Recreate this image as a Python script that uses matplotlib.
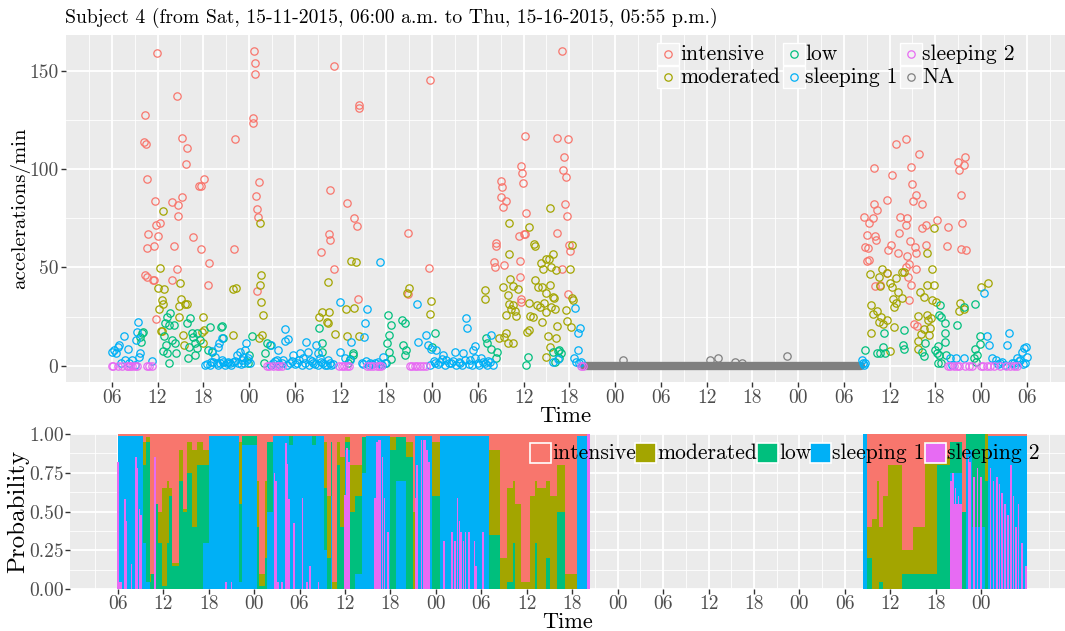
import matplotlib
matplotlib.use('Agg')
import matplotlib.pyplot as plt
import matplotlib.patches as patches
import numpy as np

plt.rcParams['font.family'] = 'cmr10'
plt.rcParams['mathtext.fontset'] = 'cm'
plt.rcParams['axes.unicode_minus'] = False

# --- colours (ggplot hue palette) ---
COLORS = {'intensive': '#F8766D', 'moderated': '#A3A500', 'low': '#00BF7D',
          'sleeping 1': '#00B0F6', 'sleeping 2': '#E76BF3', 'NA': '#7F7F7F'}

# ================= DATA (time in hours from Sat 00:00) =================
int_t = [11.9, 14.56, 10.3, 10.2, 10.5, 10.6, 15.26, 15.87, 15.8, 11.7, 13.95, 14.65, 15.2, 14.7, 12.3, 11.85,
         10.8, 12.0, 10.67, 11.6, 14.1, 16.7, 17.5, 17.65, 18.1, 17.7, 18.7, 18.6, 10.3, 10.6, 11.4, 11.6, 13.9,
         14.5, 11.76, 22.1, 22.0, 24.6, 24.8, 24.8, 24.56, 24.5, 25.26, 24.9, 25.1, 25.2, 25.0, 35.1, 38.4, 38.45,
         34.6, 36.8, 37.8, 38.2, 34.5, 34.65, 33.4, 35.2, 38.3, 47.7, 44.9, 44.8, 47.6, 60.15, 59.7, 59.8, 59.9,
         57.0, 57.2, 57.05, 57.3, 57.7, 60.3, 59.4, 60.05, 60.2, 56.4, 56.4, 56.1, 56.2, 57.4, 59.5, 59.5, 59.6,
         59.7, 64.4, 64.4, 65.1, 65.8, 65.3, 65.2, 65.5, 65.4, 65.7, 65.96, 66.1, 65.1, 65.8,
         110.1, 108.8, 111.9, 105.9, 110.8, 108.3, 111.0, 111.4, 111.1, 112.3, 107.7, 106.0, 106.4, 104.7, 105.3,
         105.8, 109.3, 110.3, 110.1, 109.2, 105.1, 106.1, 106.2, 114.2, 115.6, 112.2, 112.8, 110.7, 111.3, 112.8,
         108.2, 107.8, 104.8, 105.2, 109.1, 111.4, 110.3, 110.5, 110.1, 105.0, 105.3, 111.5, 107.6, 110.4, 110.8,
         106.1, 106.8, 110.6, 111.2, 111.6, 117.0, 117.1, 117.9, 117.8, 117.4, 117.5, 115.5, 117.4, 118.0]
int_v = [158.8, 137.0, 127.6, 113.5, 112.7, 94.7, 116.0, 110.5, 102.4, 83.9, 83.2, 81.7, 86.0, 76.3, 72.7, 71.4,
         66.8, 65.8, 59.7, 61.0, 60.8, 65.4, 91.2, 91.5, 94.9, 59.3, 52.0, 41.2, 45.9, 44.9, 43.6, 43.6, 43.6,
         49.3, 24.0, 115.0, 59.5, 159.8, 153.7, 148.1, 126.0, 123.4, 93.6, 86.4, 79.7, 75.8, 38.1, 152.5, 132.4, 131.0,
         89.3, 82.5, 75.1, 71.2, 66.8, 63.9, 57.8, 49.2, 34.1, 145.3, 67.6, 36.6, 49.8, 117.0, 101.7, 97.8, 92.9,
         93.9, 90.7, 85.8, 80.7, 83.9, 77.8, 65.9, 66.8, 67.0, 62.5, 60.7, 52.9, 50.2, 51.0, 53.4, 45.3, 33.7,
         32.5, 115.6, 67.3, 160.0, 115.3, 105.9, 99.5, 95.8, 82.4, 76.3, 61.5, 58.5, 49.0, 36.6,
         115.3, 112.5, 107.6, 100.5, 101.2, 97.0, 92.4, 86.8, 83.6, 82.2, 84.4, 82.2, 79.2, 75.6, 72.7,
         74.9, 75.4, 74.9, 71.7, 67.3, 66.3, 66.1, 63.9, 74.1, 70.5, 70.0, 71.4, 63.2, 60.3, 61.4,
         61.4, 58.8, 60.5, 59.7, 57.1, 57.1, 55.8, 51.5, 50.3, 53.2, 53.9, 49.0, 47.1, 44.9, 41.2,
         40.5, 41.0, 33.4, 21.4, 20.3, 103.4, 99.7, 105.9, 102.0, 86.6, 72.4, 60.8, 59.3, 58.6]

mod_t = [12.68, 12.29, 12.03, 12.81, 12.55, 12.77, 12.16, 12.42, 12.6, 15.0, 15.08, 15.6, 15.83, 14.82, 14.86,
         15.39, 15.52, 18.0, 18.05, 17.79, 17.97, 21.9, 22.29, 21.85, 25.48, 25.6, 25.39, 25.56, 25.78, 25.69,
         25.26, 34.38, 34.52, 33.51, 33.21, 34.17, 34.34, 37.35, 38.0, 36.74, 37.83, 35.3, 36.83, 38.45, 44.95,
         44.78, 47.83, 47.79, 54.95, 54.95, 58.14, 58.05, 58.27, 57.35, 57.97, 59.28, 58.62, 58.05, 58.62, 58.36,
         57.75, 58.88, 59.06, 56.79, 57.44, 57.75, 58.01, 58.62, 60.76, 61.37, 61.46, 60.76, 60.85, 61.55, 61.94,
         62.33, 62.51, 62.99, 63.29, 63.47, 62.2, 61.81, 62.42, 62.9, 63.42, 63.86, 63.6, 62.46, 61.24, 60.5,
         60.72, 63.25, 63.47, 62.9, 64.3, 63.81, 63.6, 66.35, 66.13, 66.31, 66.44, 65.56, 65.65, 66.26, 64.38,
         64.25, 64.03, 64.16, 62.93, 62.67,
         113.85, 112.89, 113.55, 112.89, 113.76, 112.45, 112.01, 113.55, 114.03, 107.06, 106.62, 106.8, 107.63,
         105.44, 108.29, 108.07, 109.65, 109.86, 108.81, 109.12, 109.6, 108.59, 108.86, 108.51, 105.61, 105.79,
         106.4, 106.84, 107.19, 107.63, 106.67, 105.53, 108.59, 108.02, 111.71, 111.75, 112.1, 112.45, 112.89,
         113.06, 113.37, 113.24, 113.15, 111.71, 117.27, 117.14, 117.71, 120.03, 120.91]
mod_v = [78.6, 49.8, 39.3, 39.2, 33.4, 31.2, 28.8, 17.6, 17.6, 41.9, 34.1, 31.4, 31.4, 30.3, 24.6,
         15.8, 10.8, 24.6, 18.0, 17.3, 11.4, 39.2, 39.7, 15.4, 72.4, 45.9, 40.8, 32.5, 25.8, 15.4,
         13.9, 42.7, 27.1, 27.3, 24.7, 22.2, 21.9, 53.0, 52.5, 29.0, 29.3, 16.3, 15.3, 15.3, 39.5,
         36.8, 32.7, 26.3, 38.3, 33.9, 72.7, 56.8, 43.9, 39.8, 35.9, 38.8, 40.7, 31.4, 31.0, 29.0,
         25.8, 28.0, 25.3, 13.9, 14.4, 16.8, 11.7, 11.4, 70.7, 61.9, 60.8, 31.7, 25.3, 43.6, 40.2,
         52.0, 49.3, 54.1, 54.1, 80.3, 30.0, 30.8, 40.2, 36.8, 41.0, 35.1, 30.0, 22.4, 24.9, 17.3,
         18.1, 15.3, 9.7, 4.6, 48.6, 56.8, 50.3, 61.4, 49.0, 34.2, 33.4, 28.3, 22.9, 19.8, 20.2,
         14.2, 34.6, 28.8, 27.5, 31.7,
         70.2, 57.5, 49.3, 41.0, 41.0, 35.1, 37.3, 33.4, 32.5, 49.0, 45.3, 40.5, 47.0,
         46.6, 40.2, 41.9, 47.8, 47.5, 44.4, 37.6, 34.2, 30.0, 31.7, 33.9, 30.8, 26.3,
         28.0, 24.6, 21.2, 23.2, 22.4, 16.4, 19.8, 7.5, 25.4, 8.3, 16.1, 18.6, 25.8,
         23.2, 24.1, 19.3, 15.6, 12.5, 32.0, 28.0, 28.6, 40.2, 41.9]

low_t = [9.93, 9.71, 10.15, 9.84, 13.64, 13.29, 12.94, 13.47, 12.86, 13.12, 12.77, 13.51, 13.25, 14.17, 14.34,
         14.43, 13.86, 16.26, 15.91, 16.48, 16.7, 16.87, 16.17, 15.96, 17.14, 17.57, 17.22, 16.92, 18.88, 18.66,
         19.1, 20.41, 20.28, 20.63, 24.34, 24.03, 23.9, 26.31, 26.09, 25.96, 26.79, 33.21, 33.6, 33.51, 37.66,
         37.57, 37.0, 37.22, 42.2, 42.59, 42.42, 42.11, 42.29, 42.64, 41.94, 44.08, 44.43, 44.21, 44.65, 44.43,
         48.36, 48.05, 55.13, 55.26, 55.78, 56.52, 56.44, 60.59, 60.28, 63.86, 64.08, 64.65, 64.47, 64.9, 64.6,
         104.78, 106.4, 106.75, 107.28, 107.19, 107.37, 109.95, 109.82, 109.86, 112.58, 112.45, 112.19, 114.64,
         114.51, 114.77, 115.21, 115.21, 115.3, 114.33, 113.98, 114.2, 114.47, 114.29, 114.77, 115.39, 116.83,
         119.2, 119.9, 119.81, 119.24, 119.46, 119.11, 119.37, 117.71]
low_v = [16.4, 14.7, 17.3, 12.2, 26.6, 24.6, 21.5, 20.7, 15.1, 10.5, 7.6, 1.2, 6.3, 20.7, 11.4,
         6.6, 13.1, 24.1, 21.5, 16.4, 14.7, 11.4, 9.7, 3.7, 16.4, 13.1, 8.8, 5.4, 19.8, 8.0,
         7.1, 20.2, 19.5, 13.9, 15.3, 5.4, 1.2, 11.4, 6.3, 1.2, 10.5, 19.3, 11.4, 7.1, 6.3,
         5.4, 1.2, 3.2, 25.8, 20.7, 15.6, 11.7, 7.1, 3.2, 1.2, 23.2, 21.5, 10.5, 8.0, 5.4,
         16.4, 9.7, 13.9, 11.4, 8.3, 7.1, 3.7, 4.6, 0.3, 7.1, 2.0, 8.0, 7.5, 6.3, 3.7,
         8.0, 6.3, 6.6, 16.4, 9.7, 6.3, 18.1, 10.5, 8.5, 11.4, 4.9, 7.1, 30.8,
         25.8, 24.6, 21.5, 16.8, 12.2, 10.0, 8.0, 6.6, 5.4, 1.2, 1.2, 5.4, 20.5,
         31.4, 15.3, 11.0, 8.3, 5.4, 3.7, 2.0, 30.0]

s1_t = [6.0, 6.31, 6.57, 6.79, 6.92, 7.66, 8.18, 8.62, 7.18, 7.75, 8.23, 9.41, 9.36, 9.19, 9.67, 9.62, 9.06,
        11.33, 18.23, 18.88, 19.32, 19.76, 20.19, 20.63, 21.07, 21.5, 21.94, 19.54, 20.1, 20.45, 19.1, 19.97,
        22.38, 22.81, 23.25, 23.47, 23.6, 23.69, 23.03, 22.59, 24.12, 23.9, 26.83, 27.18, 27.62, 27.83, 28.49,
        28.75, 29.14, 29.36, 29.8, 30.24, 30.67, 31.11, 31.5, 31.76, 31.98, 32.42, 32.77, 33.07, 33.29, 33.73,
        34.17, 34.6, 35.04, 28.71, 35.96, 35.91, 36.57, 37.22, 37.35, 41.24, 39.45, 39.19, 39.06, 38.75, 39.84,
        40.5, 41.15, 41.59, 41.81, 46.04, 46.17, 47.27, 47.48, 47.92, 48.58, 48.36, 49.01, 49.45, 49.89, 50.54,
        50.98, 51.63, 52.07, 52.51, 52.59, 52.94, 53.38, 53.69, 54.03, 54.47, 54.91, 55.57, 55.78, 56.0, 63.86,
        64.52, 66.79, 67.45, 67.1, 67.18, 66.66, 66.88, 67.23, 67.53,
        18.5, 19.0, 19.9, 20.4, 20.9, 21.3, 21.7, 22.2, 23.0, 23.4, 26.9, 27.4, 27.9, 28.3, 29.0, 29.6, 30.0,
        30.5, 30.9, 31.3, 31.9, 32.2, 32.6, 33.0, 33.5, 34.0, 34.4, 34.8, 38.9, 39.3, 39.7, 40.1, 40.9, 41.4,
        47.7, 48.2, 48.8, 49.3, 49.7, 50.2, 50.7, 51.2, 51.5, 51.9, 52.3, 52.8, 53.2, 53.6, 54.2, 54.7, 55.2,
        55.4,
        104.34, 104.48, 104.65, 104.78, 115.96, 116.75, 117.71, 120.34, 120.78, 121.0, 121.43, 122.0, 122.53,
        123.41, 123.71, 124.28, 124.72, 125.16, 125.38, 125.6, 125.95, 125.82, 116.2, 122.2, 122.8, 123.1,
        124.0, 124.5, 125.0, 125.5, 126.0]
s1_v = [7.1, 8.0, 6.3, 9.7, 10.5, 15.1, 8.3, 2.9, 1.2, 2.9, 1.2, 22.4, 17.3, 13.1, 6.3, 4.6, 0.3,
        2.4, 0.3, 0.3, 2.0, 1.2, 1.2, 2.0, 1.2, 1.2, 2.0, 4.6, 11.4, 13.9, 7.5, 9.7,
        5.4, 7.1, 4.6, 8.0, 11.4, 2.9, 2.9, 1.2, 1.2, 3.7, 10.5, 1.2, 2.9, 8.0, 2.9,
        12.7, 13.4, 1.2, 5.4, 1.2, 6.3, 3.7, 11.9, 7.1, 2.9, 1.2, 10.7, 6.6, 3.7, 1.2,
        0.3, 1.2, 0.7, 18.5, 32.4, 7.1, 3.7, 2.9, 12.2, 52.9, 28.6, 21.5, 14.7, 1.2, 1.2,
        1.2, 0.7, 4.6, 1.2, 31.2, 12.2, 15.6, 10.8, 8.3, 8.0, 1.2, 2.0, 5.4, 2.9, 1.2,
        7.1, 1.2, 6.3, 24.1, 19.3, 2.9, 8.0, 10.0, 1.2, 3.7, 1.2, 2.0, 15.6, 0.3, 2.0,
        3.2, 29.5, 19.3, 16.4, 8.0, 3.7, 1.7, 1.2, 2.0,
        0.8, 2.1, 0.5, 3.0, 0.6, 1.8, 0.4, 2.5, 0.9, 1.5, 0.5, 2.2, 0.7, 1.4, 0.3, 2.6, 0.8,
        3.1, 0.4, 1.6, 0.6, 2.3, 0.9, 0.4, 1.9, 0.6, 2.7, 0.5, 0.7, 2.4, 0.3, 1.1, 2.0, 0.6,
        0.5, 2.2, 0.8, 3.4, 0.4, 1.3, 2.6, 0.5, 1.7, 0.3, 2.9, 0.9, 0.4, 4.1, 0.6, 1.8, 0.5,
        2.3,
        2.9, 1.5, 0.3, 1.2, 3.7, 3.7, 3.7, 36.8, 15.1, 10.5, 3.7, 2.9, 1.2,
        10.5, 16.8, 1.2, 3.7, 2.9, 7.1, 8.8, 9.7, 1.2, 0.5, 0.8, 2.0, 0.4,
        1.5, 0.6, 2.2, 0.9, 4.5]

s2_t = [6.0, 6.22, 6.87, 7.31, 7.97, 8.18, 8.4, 8.62, 9.06, 9.36, 10.67, 10.93, 11.24, 26.39, 26.66, 27.18,
        27.62, 27.97, 28.27, 35.83, 36.13, 36.44, 36.79, 37.13, 39.49, 39.84, 40.28, 40.72, 41.07, 41.37,
        45.08, 45.43, 45.74, 46.04, 46.39, 46.83, 47.18, 67.5, 67.8, 115.6, 115.96, 116.4, 116.8, 117.05,
        117.9, 118.4, 118.8, 120.0, 120.3, 120.8, 121.2, 121.65, 122.5, 123.2, 123.8, 124.3, 124.7]
s2_v = [0.0] * len(s2_t)

na_start, na_end = 67.9, 104.3
na_t = [73.1, 84.4, 85.5, 87.7, 88.7, 94.6]
na_v = [2.9, 2.9, 3.7, 2.0, 1.2, 4.9]

# --- state probabilities: piecewise segments (start, end) and stacked shares ---
seg_t0 = [6.0, 9.4, 9.7, 10.2, 10.45, 10.9, 11.3, 11.9, 12.5, 12.8, 13.2, 14.1, 14.6, 15.2, 15.8, 16.5, 17.3,
          18.0, 22.0, 22.4, 24.4, 24.6, 25.4, 25.7, 26.5, 28.6, 29.2, 31.7, 32.2, 33.2, 33.6, 34.1, 34.3, 34.9,
          35.4, 36.0, 36.6, 37.3, 38.2, 38.8, 42.0, 42.8, 44.0, 45.0, 45.3, 47.5, 48.6, 55.0, 56.5, 57.4, 58.2,
          58.5, 59.3, 60.4, 61.1, 61.4, 62.6, 63.0, 64.0, 65.1, 66.6, 67.9,
          104.4, 104.9, 105.6, 106.2, 106.5, 107.0, 107.7, 109.5, 111.0, 112.6, 114.1, 115.9, 117.4, 118.0,
          118.8, 120.5, 120.9]
seg_t1 = [9.4, 9.7, 10.2, 10.45, 10.9, 11.3, 11.9, 12.5, 12.8, 13.2, 14.1, 14.6, 15.2, 15.8, 16.5, 17.3, 18.0,
          22.0, 22.4, 24.4, 24.6, 25.4, 25.7, 26.5, 28.6, 29.2, 31.7, 32.2, 33.2, 33.6, 34.1, 34.3, 34.9, 35.4,
          36.0, 36.6, 37.3, 38.2, 38.8, 42.0, 42.8, 44.0, 45.0, 45.3, 47.5, 48.6, 55.0, 56.5, 57.4, 58.2, 58.5,
          59.3, 60.4, 61.1, 61.4, 62.6, 63.0, 64.0, 65.1, 66.6, 67.9, 68.4,
          104.9, 105.6, 106.2, 106.5, 107.0, 107.7, 109.5, 111.0, 112.6, 114.1, 115.9, 117.4, 118.0, 118.8,
          120.5, 120.9, 126.0]
p_s2 = [0, 0, 0, 0, 0, 0, 0, 0, 0, 0, 0, 0, 0, 0, 0, 0, 0,
        0, 0, 0, 0, 0, 0, 0, 0, 0, 0, 0, 0, 0, 0, 0, 0, 0,
        0, 0, 0, 0, 0, 0, 0, 0, 0, 0, 0, 0, 0, 0, 0, 0, 0,
        0, 0, 0, 0, 0, 0, 0, 0, 0, 0, 1.0,
        0, 0, 0, 0, 0, 0, 0, 0, 0, 0, 0, .55, 0, 0,
        0, 0, 0]
p_s1 = [.99, .30, .05, 0, 0, 0, 0, 0, 0, 0, 0, 0, 0, 0, 0, 0, .30,
        .99, .05, .93, 0, 0, 0, .50, .99, .93, .99, .93, .99, .25, 0, .60, 0, 0,
        0, .90, 0, .10, .75, .99, 0, .70, 0, 0, .99, 0, .99, 0, 0, 0, 0,
        0, 0, 0, 0, 0, 0, 0, 0, 0, .99, 0,
        1.0, 0, 0, 0, 0, 0, 0, 0, 0, 0, 0, .20, 0, .90,
        .40, 0, .99]
p_low = [0, .50, .90, .05, .10, .55, .30, .02, .30, .60, .15, .70, .50, .75, .40, .80, .50,
         0, .50, .06, .40, .02, .20, .45, 0, .06, 0, .06, 0, .40, .20, .35, 0, .80,
         .40, .05, .50, .50, .23, 0, .90, .28, .85, 0, 0, .60, 0, .35, 0, .05, .30,
         0, 0, 0, .30, 0, .20, 0, .50, 0, 0, 0,
         0, .20, 0, 0, .05, 0, 0, .10, .10, .10, .80, .20, .50, .10,
         .60, .70, 0]
p_mod = [0, .15, .03, .05, 0, 0, .20, .63, .40, .05, .02, .20, .02, .20, .50, .15, .10,
         0, .40, 0, .30, .08, .50, 0, 0, 0, 0, 0, 0, .30, .40, 0, .05, .15,
         .45, .03, .30, .20, 0, 0, .08, 0, .10, .50, 0, .35, 0, .55, .20, .60, .40,
         .55, .05, .60, .40, .65, .50, .60, .30, .10, 0, 0,
         0, .20, .45, .70, .35, .60, .80, .15, .30, .85, .05, 0, 0, 0,
         0, .30, 0]
p_int = [.01, .05, .02, .90, .90, .45, .50, .35, .30, .35, .83, .10, .48, .05, .10, .05, .10,
         .01, .05, .01, .30, .90, .30, .05, .01, .01, .01, .01, .01, .05, .40, .05, .95, .05,
         .15, .02, .20, .20, .02, .01, .02, .02, .05, .50, .01, .05, .01, .10, .80, .35, .30,
         .45, .95, .40, .30, .35, .30, .40, .20, .90, .01, 0,
         0, .60, .55, .30, .60, .40, .20, .75, .60, .05, .15, .05, .50, 0,
         0, 0, .01]

# thin "sleeping 2" spikes
spike_t = [6.05, 6.3, 6.5, 6.97, 7.1, 7.84, 8.37, 8.55, 8.86, 9.03, 10.95, 20.3, 21.0, 26.7, 26.9, 27.2, 27.7,
           28.2, 28.4, 28.6, 29.3, 30.4, 30.96, 31.4, 32.5, 36.0, 36.3, 36.5, 40.0, 40.2, 40.45, 40.7, 40.95,
           41.2, 41.7, 45.3, 45.55, 46.1, 46.35, 46.6, 46.85, 47.1, 49.1, 50.1, 50.5, 50.85, 51.1, 51.3, 51.65,
           51.9, 52.3, 52.4, 53.1, 53.3, 54.2, 116.0, 116.3, 116.6, 117.0, 118.3, 118.5, 119.0, 119.5, 120.0,
           121.2, 121.6, 122.05, 122.4, 122.7, 123.15, 123.5, 123.9, 124.25, 124.6, 124.9, 125.35, 125.9]
spike_h = [.82, .05, .05, .58, .44, .16, .85, .78, .52, .48, .85, .05, .05, .75, .70, .05, .05,
           .94, .81, .58, .43, .59, .05, .15, .05, .61, .91, .82, .59, .95, .96, .96, .85,
           .59, .37, .59, .80, .96, .96, .96, .90, .82, .31, .37, .31, .59, .44, .37, .31,
           .37, .15, .37, .31, .15, .37, .70, .75, .65, .60, .85, .82, .72, .78, .72,
           .78, .70, .72, .68, .62, .55, .48, .80, .60, .40, .55, .30, .15]

top_ticks = list(range(6, 127, 6))
bot_ticks = list(range(6, 121, 6))

TITLE = "Subject 4 (from Sat, 15-11-2015, 06:00 a.m. to Thu, 15-16-2015, 05:55 p.m.)"

# ================= FIGURE =================
W, H = 1065, 631
fig = plt.figure(figsize=(W / 100, H / 100), dpi=100, facecolor='white')


def fx(px):
    return px / W


def fy(py):
    return 1 - py / H


def gg_style(ax, pad=2):
    ax.set_facecolor('#EBEBEB')
    for s in ax.spines.values():
        s.set_visible(False)
    ax.grid(which='major', color='white', lw=1.3)
    ax.grid(which='minor', color='white', lw=0.6)
    ax.set_axisbelow(True)
    ax.tick_params(which='major', length=3.5, width=1, color='#333333', labelcolor='#4D4D4D',
                   labelsize=14, pad=pad)
    ax.tick_params(which='minor', length=0)


# --- top panel: accelerations ---
ax1 = fig.add_axes([fx(66), fy(381.7), (W - 66) / W, (381.7 - 35) / H])
gg_style(ax1)
ax1.set_xlim(0, 131)
ax1.set_ylim(-8.1, 168.1)
ax1.set_xticks(top_ticks)
ax1.set_xticklabels(['%02d' % (t % 24) for t in top_ticks])
ax1.set_xticks(np.arange(3, 131, 6), minor=True)
ax1.set_yticks([0, 50, 100, 150])
ax1.set_yticks([25, 75, 125], minor=True)
ax1.set_xlabel('Time', fontsize=16.5)
ax1.xaxis.label.set_va('center')
ax1.xaxis.set_label_coords(0.5, (381.7 - 416) / (381.7 - 35))
ax1.set_ylabel('accelerations/min', fontsize=15)
ax1.yaxis.label.set_va('center')
ax1.yaxis.set_label_coords((20 - 66) / (W - 66), 0.5)

series = [('intensive', int_t, int_v), ('moderated', mod_t, mod_v), ('low', low_t, low_v),
          ('sleeping 1', s1_t, s1_v), ('sleeping 2', s2_t, s2_v), ('NA', na_t, na_v)]
ax1.plot([na_start, na_end], [0, 0], color=COLORS['NA'], lw=6, solid_capstyle='round', zorder=2)
for name, t, v in series:
    ax1.plot(t, v, 'o', ls='none', ms=5.3, mfc='none', mec=COLORS[name], mew=0.9, zorder=3)

# top legend (3 columns x 2 rows)
leg_cols = [(657, 680), (783, 805), (900, 922)]
leg_rows = [54, 77]
leg_items = [('intensive', 0, 0), ('moderated', 0, 1), ('low', 1, 0), ('sleeping 1', 1, 1),
             ('sleeping 2', 2, 0), ('NA', 2, 1)]
for name, c, r in leg_items:
    kx, tx = leg_cols[c]
    ky = leg_rows[r]
    fig.patches.append(patches.Rectangle((fx(kx), fy(ky + 11)), 22 / W, 22 / H, transform=fig.transFigure,
                                         facecolor='#F2F2F2', edgecolor='white', lw=1.0, zorder=5))
    fig.lines.append(plt.Line2D([fx(kx + 11)], [fy(ky)], transform=fig.transFigure, marker='o', ms=5.3,
                                mfc='none', mec=COLORS[name], mew=0.9, zorder=6))
    fig.text(fx(tx), fy(ky), name, fontsize=15.5, va='center', ha='left', color='black', zorder=6)

# --- bottom panel: probabilities ---
ax2 = fig.add_axes([fx(70), fy(589.3), (W - 70) / W, (589.3 - 434) / H])
gg_style(ax2, pad=1)
ax2.set_xlim(-0.3, 131.05)
ax2.set_ylim(0, 1)
ax2.set_xticks(bot_ticks)
ax2.set_xticklabels(['%02d' % (t % 24) for t in bot_ticks])
ax2.set_xticks(np.arange(3, 131, 6), minor=True)
ax2.set_yticks([0, 0.25, 0.5, 0.75, 1.0])
ax2.set_yticklabels(['0.00', '0.25', '0.50', '0.75', '1.00'])
ax2.set_yticks([0.125, 0.375, 0.625, 0.875], minor=True)
ax2.set_xlabel('Time', fontsize=16)
ax2.xaxis.label.set_va('center')
ax2.xaxis.set_label_coords(0.5, (589.3 - 622) / (589.3 - 434))
ax2.set_ylabel('Probability', fontsize=18)
ax2.yaxis.label.set_va('center')
ax2.yaxis.set_label_coords((18 - 70) / (W - 70), 0.5)

t0 = np.array(seg_t0)
widths = np.array(seg_t1) - t0
bottom = np.zeros(len(t0))
for name, p in [('sleeping 2', p_s2), ('sleeping 1', p_s1), ('low', p_low), ('moderated', p_mod),
                ('intensive', p_int)]:
    p = np.array(p, dtype=float)
    ax2.bar(t0, p, width=widths, bottom=bottom, align='edge', color=COLORS[name], lw=0, zorder=2)
    bottom = bottom + p
ax2.bar(spike_t, spike_h, width=0.22, color=COLORS['sleeping 2'], lw=0, zorder=3)

# bottom legend (one row)
bl_items = [('intensive', 530), ('moderated', 635), ('low', 757), ('sleeping 1', 810), ('sleeping 2', 925)]
for name, kx in bl_items:
    fig.patches.append(patches.Rectangle((fx(kx), fy(463.3)), 21 / W, 20.6 / H, transform=fig.transFigure,
                                         facecolor=COLORS[name], edgecolor='white', lw=1.2, zorder=5))
    fig.text(fx(kx + 22), fy(453), name, fontsize=15.5, va='center', ha='left', color='black', zorder=6)

fig.text(fx(65), fy(18), TITLE, fontsize=14.2, va='center', ha='left')

fig.savefig('out.png', dpi=100, facecolor='white')
